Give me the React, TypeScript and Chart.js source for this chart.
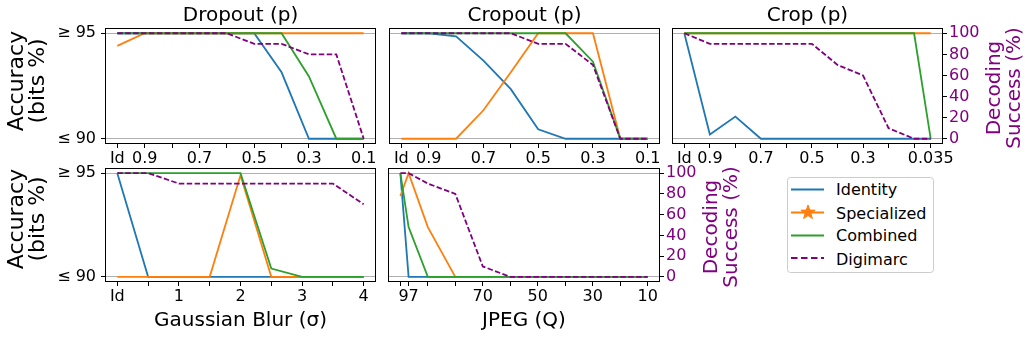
import React, { useEffect, useRef } from "react";
import { Chart, registerables } from "chart.js";

Chart.register(...registerables);

const FONT = "'DejaVu Sans', 'Liberation Sans', sans-serif";
const C_ID = "#1f77b4";
const C_SP = "#ff7f0e";
const C_CO = "#2ca02c";
const C_DG = "#800080";

// ---- Data ----
const seriesNames = ["Identity", "Specialized", "Combined", "Digimarc"];

const dropoutX = [1, 0.9, 0.8, 0.7, 0.6, 0.5, 0.4, 0.3, 0.2, 0.1];
const dropoutTickLabels = ["Id", "0.9", "", "0.7", "", "0.5", "", "0.3", "", "0.1"];
const dropoutIdentity = [95, 95, 95, 95, 95, 95, 93.15, 90, 90, 90];
const dropoutSpecialized = [94.4, 95, 95, 95, 95, 95, 95, 95, 95, 95];
const dropoutCombined = [95, 95, 95, 95, 95, 95, 95, 92.95, 90, 90];
const dropoutDigimarc = [100, 100, 100, 100, 100, 90, 90, 80, 80, 0];

const cropoutX = [1, 0.9, 0.8, 0.7, 0.6, 0.5, 0.4, 0.3, 0.2, 0.1];
const cropoutTickLabels = ["Id", "0.9", "", "0.7", "", "0.5", "", "0.3", "", "0.1"];
const cropoutIdentity = [95, 95, 94.85, 93.7, 92.35, 90.45, 90, 90, 90, 90];
const cropoutSpecialized = [90, 90, 90, 91.35, 93.15, 95, 95, 95, 90, 90];
const cropoutCombined = [95, 95, 95, 95, 95, 95, 95, 93.65, 90, 90];
const cropoutDigimarc = [100, 100, 100, 100, 100, 90, 90, 70, 0, 0];

const cropX = [1, 0.9, 0.8, 0.7, 0.6, 0.5, 0.4, 0.3, 0.2, 0.1, 0.035];
const cropTickLabels = ["Id", "0.9", "", "0.7", "", "0.5", "", "0.3", "", "", "0.035"];
const cropIdentity = [95, 90.2, 91.05, 90, 90, 90, 90, 90, 90, 90, 90];
const cropSpecialized = [95, 95, 95, 95, 95, 95, 95, 95, 95, 95, 95];
const cropCombined = [95, 95, 95, 95, 95, 95, 95, 95, 95, 95, 90];
const cropDigimarc = [100, 90, 90, 90, 90, 90, 70, 60, 10, 0, 0];

const blurX = [0, 0.5, 1, 1.5, 2, 2.5, 3, 3.5, 4];
const blurTickLabels = ["Id", "", "1", "", "2", "", "3", "", "4"];
const blurIdentity = [95, 90, 90, 90, 90, 90, 90, 90, 90];
const blurSpecialized = [90, 90, 90, 90, 94.9, 90, 90, 90, 90];
const blurCombined = [95, 95, 95, 95, 95, 90.4, 90, 90, 90];
const blurDigimarc = [100, 100, 90, 90, 90, 90, 90, 90, 70];

const jpegX = [100, 97, 90, 80, 70, 60, 50, 40, 30, 20, 10];
const jpegTickLabels = ["", "97", "", "", "70", "", "50", "", "30", "", "10"];
const jpegIdentity = [95, 90, 90, 90, 90, 90, 90, 90, 90, 90, 90];
const jpegSpecialized = [93.9, 95, 92.4, 90, 90, 90, 90, 90, 90, 90, 90];
const jpegCombined = [95, 92.4, 90, 90, 90, 90, 90, 90, 90, 90, 90];
const jpegDigimarc = [100, 100, 90, 80, 10, 0, 0, 0, 0, 0, 0];

const accuracyTicks = [90, 95];
const accuracyTickLabels = ["≤ 90", "≥ 95"];
const decodingTicks = [0, 20, 40, 60, 80, 100];

const accuracyLabel = ["Accuracy", "(bits %)"];
const decodingLabel = ["Decoding", "Success (%)"];

// ---- Plugins ----
const framePlugin = {
  id: "frame",
  afterDraw(chart: any) {
    const { ctx, chartArea: a } = chart;
    ctx.save();
    ctx.strokeStyle = "#000";
    ctx.lineWidth = 1;
    ctx.strokeRect(a.left + 0.5, a.top + 0.5, a.right - a.left - 1, a.bottom - a.top - 1);
    ctx.restore();
  },
};

const sideLabelPlugin = {
  id: "sideLabels",
  afterDraw(chart: any, _args: any, opts: any) {
    const items = (opts && opts.items) || [];
    const ctx = chart.ctx;
    for (const it of items) {
      ctx.save();
      ctx.fillStyle = it.color;
      ctx.font = `${it.size}px ${FONT}`;
      ctx.textAlign = "center";
      ctx.textBaseline = "alphabetic";
      it.lines.forEach((line: string, i: number) => {
        ctx.save();
        ctx.translate(it.xs[i], it.cy);
        ctx.rotate(-Math.PI / 2);
        ctx.fillText(line, 0, 0);
        ctx.restore();
      });
      ctx.restore();
    }
  },
};

type Side = { lines: string[]; xs: number[]; cy: number; color: string; size: number };

type PanelSpec = {
  key: string;
  left: number;
  top: number;
  w: number;
  h: number;
  pad: { left: number; right: number; top: number; bottom: number };
  title?: string;
  xTitle?: string;
  xs: number[];
  xLabels: string[];
  xMin: number;
  xMax: number;
  reverse: boolean;
  series: number[][];
  showLeft: boolean;
  showRight: boolean;
  yW: number;
  rW: number;
  xH: number;
  sides: Side[];
};

const accuracySide = (cy: number): Side => ({
  lines: accuracyLabel,
  xs: [23, 44],
  cy,
  color: "#000",
  size: 22,
});
const decodingSide = (x0: number, cy: number): Side => ({
  lines: decodingLabel,
  xs: [x0, x0 + 20.5],
  cy,
  color: C_DG,
  size: 20,
});

const panels: PanelSpec[] = [
  {
    key: "dropout",
    left: 0, top: 0, w: 385, h: 168,
    pad: { left: 0, right: 9, top: 0, bottom: 0 },
    title: "Dropout (p)",
    xs: dropoutX, xLabels: dropoutTickLabels, xMin: 0.055, xMax: 1.045, reverse: true,
    series: [dropoutIdentity, dropoutSpecialized, dropoutCombined, dropoutDigimarc],
    showLeft: true, showRight: false, yW: 105, rW: 0, xH: 24,
    sides: [accuracySide(81)],
  },
  {
    key: "cropout",
    left: 380, top: 0, w: 290, h: 168,
    pad: { left: 9, right: 10, top: 0, bottom: 0 },
    title: "Cropout (p)",
    xs: cropoutX, xLabels: cropoutTickLabels, xMin: 0.055, xMax: 1.045, reverse: true,
    series: [cropoutIdentity, cropoutSpecialized, cropoutCombined, cropoutDigimarc],
    showLeft: false, showRight: false, yW: 0, rW: 0, xH: 24,
    sides: [],
  },
  {
    key: "crop",
    left: 662, top: 0, w: 369, h: 168,
    pad: { left: 10, right: 48, top: 0, bottom: 0 },
    title: "Crop (p)",
    xs: cropX, xLabels: cropTickLabels, xMin: -0.01325, xMax: 1.04825, reverse: true,
    series: [cropIdentity, cropSpecialized, cropCombined, cropDigimarc],
    showLeft: false, showRight: true, yW: 0, rW: 40, xH: 24,
    sides: [decodingSide(999.5, 88)],
  },
  {
    key: "blur",
    left: 0, top: 150, w: 385, h: 187,
    pad: { left: 0, right: 9, top: 18, bottom: 0 },
    xTitle: "Gaussian Blur (σ)",
    xs: blurX, xLabels: blurTickLabels, xMin: -0.2, xMax: 4.2, reverse: false,
    series: [blurIdentity, blurSpecialized, blurCombined, blurDigimarc],
    showLeft: true, showRight: false, yW: 105, rW: 0, xH: 55,
    sides: [accuracySide(219)],
  },
  {
    key: "jpeg",
    left: 380, top: 150, w: 370, h: 187,
    pad: { left: 8, right: 50, top: 18, bottom: 0 },
    xTitle: "JPEG (Q)",
    xs: jpegX, xLabels: jpegTickLabels, xMin: 5.5, xMax: 104.5, reverse: true,
    series: [jpegIdentity, jpegSpecialized, jpegCombined, jpegDigimarc],
    showLeft: false, showRight: true, yW: 0, rW: 40, xH: 55,
    sides: [decodingSide(716.5, 227)],
  },
];

const colors = [C_ID, C_SP, C_CO, C_DG];

function buildConfig(p: PanelSpec): any {
  const datasets = p.series.map((vals, si) => ({
    label: seriesNames[si],
    data: p.xs.map((x, i) => ({ x, y: vals[i] })),
    borderColor: colors[si],
    backgroundColor: colors[si],
    borderWidth: 1.8,
    borderDash: si === 3 ? [5.5, 2.4] : [],
    pointRadius: 0,
    pointHoverRadius: 0,
    tension: 0,
    fill: false,
    yAxisID: si === 3 ? "y1" : "y",
    order: 3 - si,
  }));

  const xLabel = (v: number) => {
    const i = p.xs.findIndex((x) => Math.abs(x - v) < 1e-9);
    return i >= 0 ? p.xLabels[i] : "";
  };
  const yLabel = (v: number) => {
    const i = accuracyTicks.findIndex((t) => Math.abs(t - v) < 1e-9);
    return i >= 0 ? accuracyTickLabels[i] : "";
  };

  const sidesLocal = p.sides.map((s) => ({
    ...s,
    xs: s.xs.map((x) => x - p.left),
    cy: s.cy - p.top,
  }));

  return {
    type: "line",
    data: { datasets },
    plugins: [framePlugin, sideLabelPlugin],
    options: {
      responsive: false,
      maintainAspectRatio: false,
      animation: false,
      devicePixelRatio: 1,
      events: [],
      layout: { padding: p.pad },
      font: { family: FONT },
      plugins: {
        legend: { display: false },
        tooltip: { enabled: false },
        title: p.title
          ? {
              display: true,
              text: p.title,
              fullSize: false,
              color: "#000",
              font: { family: FONT, size: 20, weight: "normal", lineHeight: 1.2 },
              padding: { top: 4, bottom: 0 },
            }
          : { display: false },
        sideLabels: { items: sidesLocal },
      },
      scales: {
        x: {
          type: "linear",
          position: "bottom",
          reverse: p.reverse,
          min: p.xMin,
          max: p.xMax,
          bounds: "data",
          afterBuildTicks: (s: any) => {
            s.ticks = p.xs.map((v) => ({ value: v }));
          },
          afterFit: (s: any) => {
            s.height = p.xH;
          },
          ticks: {
            callback: (v: any) => xLabel(Number(v)),
            font: { family: FONT, size: 16 },
            color: "#000",
            padding: 1,
            autoSkip: false,
            maxRotation: 0,
            minRotation: 0,
          },
          grid: {
            drawOnChartArea: false,
            drawTicks: true,
            tickLength: 4,
            tickColor: "#000",
            tickWidth: 1,
          },
          border: { display: false },
          title: p.xTitle
            ? {
                display: true,
                text: p.xTitle,
                color: "#000",
                font: { family: FONT, size: 20, lineHeight: 1.2 },
                padding: { top: 0, bottom: 4 },
              }
            : { display: false },
        },
        y: {
          type: "linear",
          position: "left",
          min: 89.75,
          max: 95.25,
          bounds: "data",
          afterBuildTicks: (s: any) => {
            s.ticks = accuracyTicks.map((v) => ({ value: v }));
          },
          afterFit: (s: any) => {
            s.width = p.yW;
          },
          ticks: {
            display: p.showLeft,
            callback: (v: any) => yLabel(Number(v)),
            font: { family: FONT, size: 16 },
            color: "#000",
            padding: 5,
          },
          grid: {
            color: "#b0b0b0",
            lineWidth: 1,
            drawTicks: p.showLeft,
            tickLength: 4,
            tickColor: "#000",
            tickWidth: 1,
          },
          border: { display: false },
        },
        y1: {
          type: "linear",
          position: "right",
          display: p.showRight,
          min: -5,
          max: 105,
          bounds: "data",
          afterBuildTicks: (s: any) => {
            s.ticks = decodingTicks.map((v) => ({ value: v }));
          },
          afterFit: (s: any) => {
            s.width = p.rW;
          },
          ticks: {
            font: { family: FONT, size: 16 },
            color: C_DG,
            padding: 2,
          },
          grid: {
            drawOnChartArea: false,
            drawTicks: true,
            tickLength: 4,
            tickColor: "#000",
            tickWidth: 1,
          },
          border: { display: false },
        },
      },
    },
  };
}

function PanelChart({ p }: { p: PanelSpec }) {
  const ref = useRef<HTMLCanvasElement>(null);
  useEffect(() => {
    const canvas = ref.current;
    if (!canvas) return;
    const chart = new Chart(canvas, buildConfig(p));
    return () => chart.destroy();
  }, [p]);
  return (
    <canvas
      ref={ref}
      width={p.w}
      height={p.h}
      style={{ position: "absolute", left: p.left, top: p.top, width: p.w, height: p.h }}
    />
  );
}

function Legend() {
  const rows = [
    { name: seriesNames[0], color: C_ID, lineY: 19.5, textY: 25, dash: undefined as string | undefined, star: false },
    { name: seriesNames[1], color: C_SP, lineY: 42.5, textY: 48.5, dash: undefined, star: true },
    { name: seriesNames[2], color: C_CO, lineY: 65.5, textY: 71, dash: undefined, star: false },
    { name: seriesNames[3], color: C_DG, lineY: 88, textY: 95, dash: "6.5 3.5", star: false },
  ];
  const starPoints = (cx: number, cy: number, R: number, r: number) => {
    const pts: string[] = [];
    for (let i = 0; i < 10; i++) {
      const ang = -Math.PI / 2 + (i * Math.PI) / 5;
      const rad = i % 2 === 0 ? R : r;
      pts.push(`${(cx + rad * Math.cos(ang)).toFixed(2)},${(cy + rad * Math.sin(ang)).toFixed(2)}`);
    }
    return pts.join(" ");
  };
  return (
    <svg
      width={160}
      height={110}
      style={{ position: "absolute", left: 780, top: 170 }}
    >
      <rect x={7.5} y={7.5} width={146} height={95} rx={3} ry={3} fill="#fff" fillOpacity={0.8} stroke="#cccccc" strokeWidth={1} />
      {rows.map((r) => (
        <g key={r.name}>
          <line x1={11} x2={44} y1={r.lineY} y2={r.lineY} stroke={r.color} strokeWidth={2} strokeDasharray={r.dash} />
          {r.star ? <polygon points={starPoints(28, r.lineY, 7.5, 3)} fill={r.color} stroke={r.color} strokeWidth={1} /> : null}
          <text x={56} y={r.textY} fontFamily={FONT} fontSize={16} fill="#000">
            {r.name}
          </text>
        </g>
      ))}
    </svg>
  );
}

export default function App() {
  return (
    <div
      style={{
        position: "absolute",
        left: 0,
        top: 0,
        width: 1031,
        height: 337,
        background: "#fff",
        overflow: "hidden",
      }}
    >
      {panels.map((p) => (
        <PanelChart key={p.key} p={p} />
      ))}
      <Legend />
    </div>
  );
}
